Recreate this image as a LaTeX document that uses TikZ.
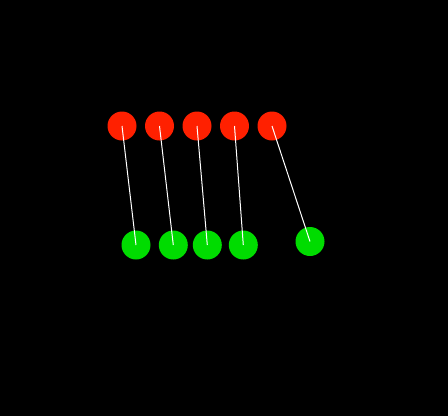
\documentclass[tikz,border=0pt]{standalone}
\definecolor{redball}{RGB}{255,32,0}
\definecolor{greenball}{RGB}{0,220,0}
\begin{document}
\begin{tikzpicture}[x=1pt,y=-1pt,
  rball/.style={circle,fill=redball,minimum size=29pt,inner sep=0pt},
  gball/.style={circle,fill=greenball,minimum size=29pt,inner sep=0pt},
  link/.style={draw=white,line width=1pt}]
\fill[black] (0,0) rectangle (448,416);
\useasboundingbox (0,0) rectangle (448,416);
\node[rball] (r1) at (122,126) {};
\node[rball] (r2) at (159.5,126) {};
\node[rball] (r3) at (197,126) {};
\node[rball] (r4) at (234.5,126) {};
\node[rball] (r5) at (272,126) {};
\node[gball] (g1) at (136,245) {};
\node[gball] (g2) at (173.3,245) {};
\node[gball] (g3) at (207.3,245) {};
\node[gball] (g4) at (243.3,245) {};
\node[gball] (g5) at (310,241.5) {};
\draw[link] (r1.center) -- (g1.center);
\draw[link] (r2.center) -- (g2.center);
\draw[link] (r3.center) -- (g3.center);
\draw[link] (r4.center) -- (g4.center);
\draw[link] (r5.center) -- (g5.center);
\end{tikzpicture}
\end{document}
